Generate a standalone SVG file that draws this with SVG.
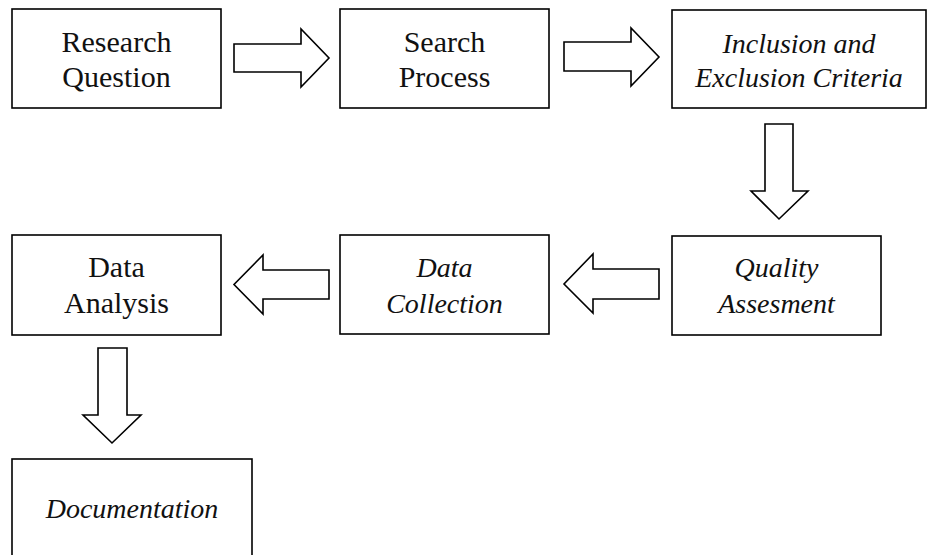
<svg xmlns="http://www.w3.org/2000/svg" width="927" height="555" viewBox="0 0 927 555">
<style>
.box{fill:#fff;stroke:#000;stroke-width:1.6}
.arr{fill:#fff;stroke:#000;stroke-width:1.6;stroke-linejoin:miter}
text{font-family:"Liberation Serif","Times New Roman",serif;fill:#111;text-anchor:middle}
.r{font-size:30px}
.i{font-size:28px;font-style:italic}
</style>
<rect width="927" height="555" fill="#fff"/>
<g id="connectors">
<polygon class="arr" points="234,44 301,44 301,29 329,58 301,87 301,72 234,72"/>
<polygon class="arr" points="564,42 631,42 631,28 659,57 631,86 631,71 564,71"/>
<polygon class="arr" points="765,124 793,124 793,191 808,191 779,219 751,191 765,191"/>
<polygon class="arr" points="329,270 263,270 263,255 234,284.5 263,314 263,299 329,299"/>
<polygon class="arr" points="659,269 593,269 593,254 564,284 593,313 593,299 659,299"/>
<polygon class="arr" points="98,348 127,348 127,415 141,415 112,443 83,415 98,415"/>
</g>
<g id="research-question">
<rect class="box" x="12" y="9" width="209" height="99"/>
<text class="r" x="116.5" y="52">Research</text>
<text class="r" x="116.5" y="87">Question</text>
</g>
<g id="search-process">
<rect class="box" x="340" y="9" width="209" height="99"/>
<text class="r" x="444.5" y="52">Search</text>
<text class="r" x="444.5" y="87">Process</text>
</g>
<g id="inclusion-exclusion">
<rect class="box" x="672" y="10" width="254" height="98"/>
<text class="i" x="799" y="53">Inclusion and</text>
<text class="i" x="799" y="87">Exclusion Criteria</text>
</g>
<g id="quality-assesment">
<rect class="box" x="672" y="236" width="209" height="99"/>
<text class="i" x="776.5" y="277">Quality</text>
<text class="i" x="776.5" y="313">Assesment</text>
</g>
<g id="data-collection">
<rect class="box" x="340" y="235" width="209" height="99"/>
<text class="i" x="444.5" y="277">Data</text>
<text class="i" x="444.5" y="313">Collection</text>
</g>
<g id="data-analysis">
<rect class="box" x="12" y="235" width="209" height="100"/>
<text class="r" x="116.5" y="277">Data</text>
<text class="r" x="116.5" y="313">Analysis</text>
</g>
<g id="documentation">
<rect class="box" x="12" y="459" width="240" height="120"/>
<text class="i" x="132" y="518">Documentation</text>
</g>
</svg>
